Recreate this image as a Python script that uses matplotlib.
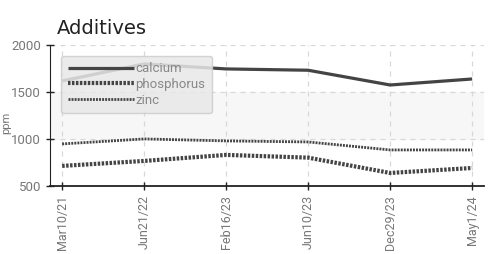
import matplotlib.pyplot as plt

dates = ["Mar10/21", "Jun21/22", "Feb16/23", "Jun10/23", "Dec29/23", "May1/24"]
calcium = [1617, 1798, 1745, 1731, 1574, 1638]
phosphorus = [713, 766, 830, 801, 638, 691]
zinc = [947, 1000, 979, 968, 883, 883]

tick_font = "Roboto"

fig = plt.figure(figsize=(4.92, 2.54), dpi=100)
ax = fig.add_axes([0.102, 0.268, 0.882, 0.555])

x = list(range(len(dates)))
ax.axhspan(1000, 1500, color="#f7f7f7", zorder=0)
ax.plot(x, calcium, color="#444444", lw=2.3, label="calcium", solid_capstyle="butt")
ax.plot(x, phosphorus, color="#444444", lw=3.0, linestyle=(0, (0.6, 0.35)), label="phosphorus")
ax.plot(x, zinc, color="#444444", lw=2.0, linestyle=(0, (0.7, 0.4)), label="zinc")

ax.set_xlim(-0.146, 5.146)
ax.set_ylim(500, 2000)
ax.set_yticks([500, 1000, 1500, 2000])
ax.set_xticks(x)
ax.set_xticklabels(dates, rotation=90)
ax.grid(True, color="#d8d8d8", linestyle=(0, (4, 4)), lw=0.9)
ax.set_axisbelow(True)

for s in ["top", "right"]:
    ax.spines[s].set_visible(False)
ax.spines["left"].set_color("#222222")
ax.spines["bottom"].set_color("#222222")
ax.spines["bottom"].set_linewidth(1.3)
ax.tick_params(direction="inout", length=6, width=1, color="#222222",
               labelcolor="#777777", labelsize=9)
ax.tick_params(axis="y", labelsize=9.5)
for lab in ax.get_xticklabels() + ax.get_yticklabels():
    lab.set_fontfamily(tick_font)
ax.set_ylabel("ppm", color="#777777", fontsize=8, family=tick_font)
ax.yaxis.set_label_coords(-0.09, 0.45)

ax.set_title("Additives", loc="left", fontsize=14, color="#222222", x=0.015, pad=8)

leg = ax.legend(loc="upper left", bbox_to_anchor=(0.01, 0.97), frameon=True, fancybox=True,
                facecolor="#e8e8e8", edgecolor="#cccccc", framealpha=0.85,
                handlelength=5.0, handletextpad=0.1, labelspacing=0.2,
                prop={"family": tick_font, "size": 9.5}, borderpad=0.5)
for t in leg.get_texts():
    t.set_color("#888888")

fig.savefig("out.png", dpi=100)
